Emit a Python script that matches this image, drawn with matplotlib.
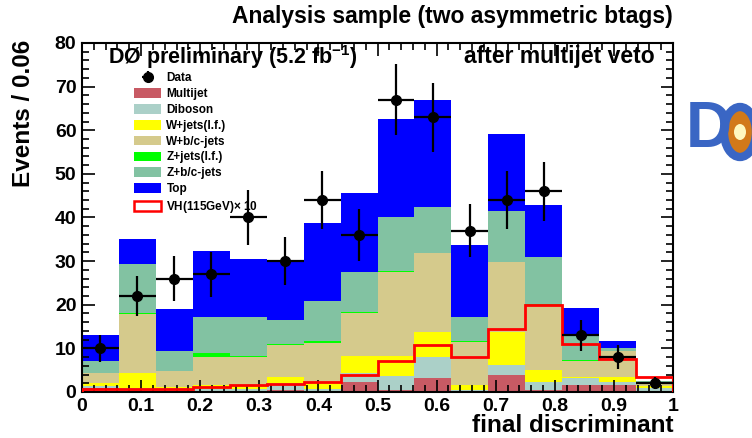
import numpy as np
import matplotlib
matplotlib.use("Agg")
import matplotlib.pyplot as plt
from matplotlib.patches import Patch, Ellipse
from matplotlib.ticker import MultipleLocator

plt.rcParams['font.family'] = ['Liberation Sans', 'DejaVu Sans']
plt.rcParams['font.weight'] = 'bold'
plt.rcParams['mathtext.fontset'] = 'custom'
plt.rcParams['mathtext.rm'] = 'Liberation Sans:bold'
plt.rcParams['mathtext.bf'] = 'Liberation Sans:bold'
plt.rcParams['mathtext.default'] = 'bf'

# ---- data ----
edges = np.linspace(0, 1, 17)
multijet = [1.0, 0.6, 0.6, 0.3, 0.3, 0.5, 0.3, 2.2, 0.4, 3.3, 0.2, 3.9, 0.5, 1.6, 1.6, 0.2]
diboson  = [0.3, 0.4, 0.3, 0.4, 0.5, 1.5, 0.4, 2.2, 3.3, 4.8, 0.3, 2.3, 1.9, 1.6, 0.7, 0.8]
wjets_lf = [0.7, 3.4, 0.3, 0.9, 0.8, 1.5, 1.7, 3.9, 4.6, 5.7, 1.1, 7.6, 2.6, 0.3, 1.2, 0.3]
wbc_jets = [2.4, 13.4, 3.7, 6.5, 6.5, 7.3, 8.8, 9.9, 19.3, 18.0, 9.9, 16.0, 15.0, 3.7, 6.0, 0.8]
zjets_lf = [0.0, 0.3, 0.0, 0.8, 0.1, 0.1, 0.4, 0.1, 0.1, 0.1, 0.1, 0.1, 0.1, 0.1, 0.0, 0.0]
zbc_jets = [2.6, 11.2, 4.6, 8.4, 8.9, 5.5, 9.3, 9.1, 12.5, 10.6, 5.7, 11.5, 10.8, 6.0, 0.5, 0.4]
top      = [6.1, 5.7, 9.5, 15.1, 13.4, 13.7, 17.8, 18.3, 22.4, 24.5, 16.4, 17.8, 12.0, 5.9, 1.8, 0.1]
signal_x10 = [0.8, 0.8, 0.8, 1.2, 1.5, 1.9, 2.4, 3.9, 7.2, 10.8, 8.0, 14.4, 20.0, 11.1, 7.6, 3.5]
data = [10, 22, 26, 27, 40, 30, 44, 36, 67, 63, 37, 44, 46, 13, 8, 2]

components = [
    ("Multijet", multijet, "#c85a64"),
    ("Diboson", diboson, "#abd0c8"),
    ("W+jets(l.f.)", wjets_lf, "#ffff00"),
    ("W+b/c-jets", wbc_jets, "#d5ca8c"),
    ("Z+jets(l.f.)", zjets_lf, "#00ff00"),
    ("Z+b/c-jets", zbc_jets, "#82c2a2"),
    ("Top", top, "#0000ff"),
]

fig = plt.figure(figsize=(7.52, 4.38), dpi=100)
ax = fig.add_axes([82/752, 1-392/438, (673-82)/752, (392-43)/438])

width = edges[1] - edges[0]
centers = 0.5 * (edges[:-1] + edges[1:])
bottom = np.zeros(16)
handles = []
for name, vals, col in components:
    v = np.array(vals)
    ax.bar(edges[:-1], v, width=width, align='edge', bottom=bottom, color=col, linewidth=0)
    bottom += v
    handles.append(Patch(facecolor=col, edgecolor='none', label=name))

ax.stairs(signal_x10, edges, color='#ff0000', lw=2.0, zorder=3)
errc = ax.errorbar(centers, data, xerr=width/2, yerr=np.sqrt(data), fmt='o', color='black',
                   ms=7, elinewidth=1.6, capsize=0, zorder=4, label='Data')

sig_handle = Patch(facecolor='white', edgecolor='#ff0000', lw=1.8, label=r'VH(115GeV)$\times$ 10')
leg = fig.legend([errc] + handles + [sig_handle],
                 ['Data'] + [h.get_label() for h in handles] + [sig_handle.get_label()],
                 loc='upper left', bbox_to_anchor=(134/752, 1-72/438), frameon=False,
                 fontsize=8.5, handlelength=2.3, handleheight=0.9, labelspacing=0.33,
                 handletextpad=0.45, borderpad=0, borderaxespad=0)

ax.set_xlim(0, 1)
ax.set_ylim(0, 80)
ax.xaxis.set_major_locator(MultipleLocator(0.1))
ax.xaxis.set_minor_locator(MultipleLocator(0.02))
ax.yaxis.set_major_locator(MultipleLocator(10))
ax.yaxis.set_minor_locator(MultipleLocator(2))
ax.tick_params(which='both', direction='in', top=True, right=True, width=1.2)
ax.tick_params(which='major', length=9, labelsize=14, pad=4)
ax.tick_params(which='minor', length=5)
ax.set_xticks(np.round(np.arange(0, 1.01, 0.1), 2))
ax.set_xticklabels([f"{t:g}" for t in np.round(np.arange(0, 1.01, 0.1), 2)])
for lab in ax.get_xticklabels() + ax.get_yticklabels():
    lab.set_fontweight('bold')
for s in ax.spines.values():
    s.set_linewidth(1.5)

fig.text(673/752, 1-16/438, "Analysis sample (two asymmetric btags)", ha='right', va='center',
         fontsize=16.5, fontweight='bold')
fig.text(108/752, 1-57/438, r"DØ preliminary (5.2 fb$^{-1}$)", ha='left', va='center',
         fontsize=15.5, fontweight='bold')
fig.text(655/752, 1-57/438, "after multijet veto", ha='right', va='center',
         fontsize=16.5, fontweight='bold')
fig.text(673/752, 1-425/438, "final discriminant", ha='right', va='center',
         fontsize=17.5, fontweight='bold')
fig.text(24/752, 1-40/438, "Events / 0.06", ha='center', va='top', rotation=90,
         fontsize=17.5, fontweight='bold')

# DØ logo approximation
fig.text(686/752, 1-130/438, "D", ha='left', va='center', fontsize=46, fontweight='bold',
         color='#3a66c4')
logo = Ellipse((740/752, 1-132/438), 32/752, 50/438, transform=fig.transFigure,
               facecolor='#d2791a', edgecolor='#3a66c4', lw=6)
fig.add_artist(logo)
core = Ellipse((740/752, 1-132/438), 12/752, 16/438, transform=fig.transFigure,
               facecolor='#fff8c0', edgecolor='none')
fig.add_artist(core)

fig.savefig("out.png", dpi=100)
